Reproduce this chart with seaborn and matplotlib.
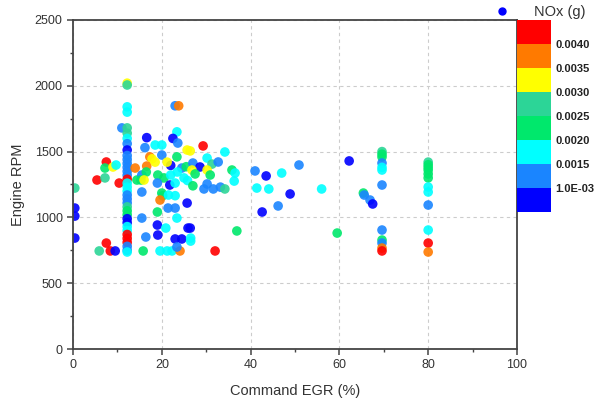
import numpy as np
import pandas as pd
import seaborn as sns
import matplotlib
matplotlib.use("Agg")
import matplotlib.pyplot as plt
from matplotlib.colors import ListedColormap, BoundaryNorm
from matplotlib.cm import ScalarMappable
from matplotlib.lines import Line2D
from matplotlib.ticker import MultipleLocator

B, D, C, G, S, Y, O, R = 0.0008, 0.00125, 0.00175, 0.00225, 0.00275, 0.00325, 0.00375, 0.0042

egr = [
    0.4, 0.4, 0.4, 0.4, 7.5, 7.2, 9.0, 9.7, 5.4, 7.2, 10.4, 7.5, 5.9, 8.4, 9.5, 11.0,
    # column at ~12 %
    12.2, 12.2, 12.2, 12.2, 12.2, 12.2, 12.2, 12.2, 12.2, 12.2, 12.2, 12.2, 12.2, 12.2, 12.2,
    12.2, 12.2, 12.2, 12.2, 12.2, 12.2, 12.2, 12.2, 12.2, 12.2, 12.2, 12.2, 12.2, 12.2, 12.2,
    12.2, 12.2, 12.2, 12.2, 12.2,
    # cluster 14-26 %
    14.0, 14.4, 23.0, 23.8, 23.4, 16.6, 22.5, 23.6, 18.5, 20.0, 16.2, 25.7, 23.4, 17.3, 17.8,
    20.0, 16.6, 22.0, 24.5, 25.5, 18.5, 21.2, 15.5, 16.5, 15.3, 16.0, 19.1, 20.5, 22.0, 23.5,
    19.0, 21.8, 23.0, 25.0, 25.8, 15.5, 20.0, 20.2, 19.6, 21.5, 23.0, 25.7, 19.0, 21.4, 23.0,
    15.5, 23.4, 19.0, 25.9, 20.9, 16.4, 19.1, 23.0, 24.5, 15.8, 19.6, 21.2, 22.3, 24.1, 23.4,
    # 26-37 %
    29.3, 26.4, 30.2, 34.2, 27.0, 28.6, 31.3, 32.7, 26.8, 27.5, 30.2, 30.9, 35.8, 36.5, 36.3,
    30.2, 29.5, 31.6, 33.2, 34.2, 27.0, 26.4, 26.5, 26.5, 36.9, 32.0,
    # 40-68 %
    41.0, 43.5, 47.0, 50.9, 41.4, 44.1, 48.9, 56.0, 46.2, 42.6, 62.2, 59.5, 65.4, 65.6, 66.9, 67.5,
    # column ~70 %
    69.6, 69.6, 69.6, 69.6, 69.6, 69.6, 69.6, 69.6, 69.6, 69.6, 69.6, 69.6,
    # column 80 %
    80, 80, 80, 80, 80, 80, 80, 80, 80, 80, 80, 80,
]

rpm = [
    1223, 1071, 1010, 843, 1421, 1375, 1383, 1398, 1284, 1300, 1261, 805, 745, 745, 745, 1680,
    2020, 2006, 1840, 1800, 1680, 1640, 1600, 1560, 1512, 1470, 1440, 1410, 1380, 1350, 1320,
    1290, 1260, 1230, 1200, 1170, 1140, 1110, 1080, 1050, 1020, 990, 960, 930, 900, 870,
    840, 810, 780, 750, 737,
    1375, 1284, 1848, 1848, 1650, 1606, 1600, 1565, 1550, 1550, 1530, 1512, 1460, 1460, 1445,
    1474, 1390, 1395, 1375, 1385, 1420, 1420, 1322, 1345, 1284, 1284, 1322, 1300, 1322, 1345,
    1261, 1246, 1261, 1300, 1280, 1193, 1185, 1165, 1132, 1170, 1165, 1109, 1041, 1071, 1071,
    995, 995, 942, 919, 919, 851, 866, 836, 836, 745, 745, 745, 745, 745, 775,
    1543, 1505, 1451, 1497, 1413, 1383, 1405, 1421, 1360, 1330, 1360, 1322, 1360, 1337, 1276,
    1254, 1216, 1216, 1230, 1216, 1240, 919, 843, 820, 897, 745,
    1353, 1315, 1337, 1398, 1223, 1216, 1178, 1216, 1087, 1041, 1429, 881, 1185, 1170, 1132, 1102,
    1500, 1480, 1459, 1413, 1380, 1360, 1246, 904, 828, 805, 767, 745,
    1420, 1400, 1380, 1360, 1330, 1300, 1231, 1193, 1094, 904, 805, 737,
]

nox = [
    S, B, B, B, R, G, Y, C, R, S, R, R, S, R, B, D,
    Y, S, C, C, S, S, C, D, B, D, D, D, D, D, D,
    R, C, C, C, D, D, D, S, G, G, B, B, C, C, R,
    R, R, D, D, C,
    O, G, D, O, C, B, B, D, C, C, D, Y, G, O, Y,
    D, O, B, D, G, Y, Y, D, G, G, Y, G, G, C, C,
    D, B, C, C, C, D, G, G, O, C, C, B, G, D, D,
    D, C, B, B, C, D, B, B, B, G, C, C, C, O, D,
    R, Y, C, C, D, B, S, D, Y, G, Y, G, G, C, C,
    D, D, D, D, S, G, B, C, C, G, R,
    D, B, C, D, C, C, B, C, D, B, B, G, G, D, D, B,
    S, G, G, D, C, C, D, D, G, D, O, R,
    S, G, G, G, G, G, C, C, D, C, R, O,
]

band_colors = ["#0000ff", "#1a85ff", "#00ffff", "#00e86c", "#2cd597",
               "#ffff00", "#ff7a00", "#ff0000"]
bounds = [0.0005, 0.001, 0.0015, 0.002, 0.0025, 0.003, 0.0035, 0.004, 0.0045]
cbar_ticks = [0.001, 0.0015, 0.002, 0.0025, 0.003, 0.0035, 0.004]
cbar_labels = ["1.0E-03", "0.0015", "0.0020", "0.0025", "0.0030", "0.0035", "0.0040"]

df = pd.DataFrame({"EGR": egr, "RPM": rpm, "NOx": nox})

sns.set_theme(style="ticks")
plt.rcParams["font.family"] = ["Liberation Sans", "DejaVu Sans"]

cmap = ListedColormap(band_colors)
norm = BoundaryNorm(bounds, cmap.N)

fig = plt.figure(figsize=(6.05, 3.99), dpi=100)
ax = fig.add_axes([0.1207, 0.1253, 0.7338, 0.8246])

sns.scatterplot(data=df, x="EGR", y="RPM", hue="NOx", palette=cmap, hue_norm=norm,
                s=48, linewidth=0, alpha=0.9, legend=False, ax=ax)

ax.set_xlim(0, 100)
ax.set_ylim(0, 2500)
ax.xaxis.set_major_locator(MultipleLocator(20))
ax.xaxis.set_minor_locator(MultipleLocator(10))
ax.yaxis.set_major_locator(MultipleLocator(500))
ax.yaxis.set_minor_locator(MultipleLocator(250))
ax.grid(True, which="major", linestyle=(0, (3, 3)), color="#cccccc", linewidth=0.8)
ax.set_axisbelow(True)
for sp in ax.spines.values():
    sp.set_color("#444444")
    sp.set_linewidth(1.3)
ax.tick_params(axis="both", which="major", length=4, width=1.1, color="#444444",
               labelsize=9, labelcolor="#333333", direction="out")
ax.tick_params(axis="both", which="minor", length=2.5, width=1.0, color="#444444", direction="out")
ax.set_xlabel("Command EGR (%)", fontsize=10.5, color="#333333", labelpad=9)
ax.set_ylabel("Engine RPM", fontsize=10.5, color="#333333", labelpad=7)

cax = fig.add_axes([0.8545, 0.4687, 0.0562, 0.4812])
sm = ScalarMappable(norm=norm, cmap=cmap)
cb = fig.colorbar(sm, cax=cax, ticks=cbar_ticks)
cb.outline.set_visible(False)
cb.ax.minorticks_off()
cb.ax.set_yticks(cbar_ticks)
cb.ax.set_yticklabels(cbar_labels)
cb.ax.tick_params(which="both", length=0, labelsize=8, pad=3)
for t in cb.ax.get_yticklabels():
    t.set_fontweight("bold")
    t.set_color("#222222")

handle = Line2D([], [], marker="o", linestyle="none", color="#0000ff", markersize=5)
fig.legend([handle], ["NOx (g)"], loc="upper right", bbox_to_anchor=(0.99, 1.02),
           frameon=False, fontsize=10.5, handletextpad=1.2, labelcolor="#333333")

fig.savefig("out.png", dpi=100)
